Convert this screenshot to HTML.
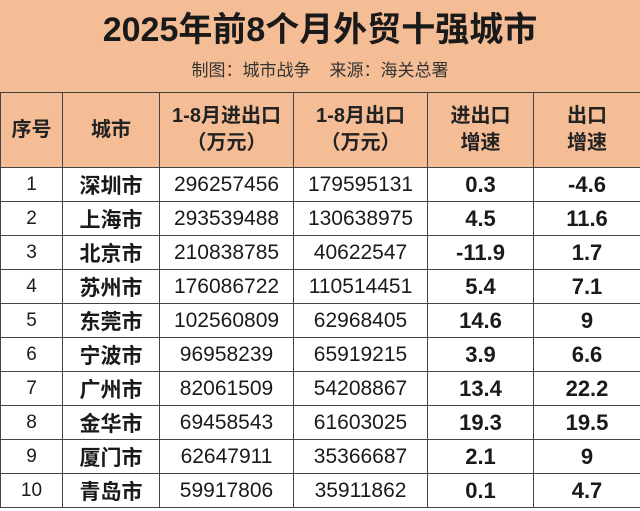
<!DOCTYPE html><html><head><meta charset="utf-8"><style>
body{margin:0;width:640px;height:511px;overflow:hidden;background:#fff;font-family:"Liberation Sans","Noto Sans CJK SC",sans-serif;color:#1a1a1a}
.top{position:absolute;left:0;top:0;width:640px;height:93px;background:#f5bd96}
.t1{position:absolute;top:9px;width:640px;text-align:center;font-size:34px;font-weight:bold;line-height:42px}
.t2{position:absolute;top:59px;width:640px;text-align:center;font-size:17px;line-height:24px;color:#333}
table{position:absolute;left:0;top:92px;border-collapse:collapse;width:640px;table-layout:fixed}
td{border:1.5px solid #444;text-align:center;padding:0;height:33px;font-size:21px}
tr.h td{background:#f5bd96;height:74px;font-weight:bold;font-size:20px;line-height:27px;color:#222}
td.n{font-size:19px}td.c{font-weight:bold;font-size:21px}td.b{font-weight:bold;font-size:22px}
</style></head><body>
<div class="top"><div class="t1">2025年前8个月外贸十强城市</div><div class="t2">制图：城市战争&nbsp;&nbsp;&nbsp;&nbsp;来源：海关总署</div></div>
<table>
<colgroup><col style="width:62px"><col style="width:97px"><col style="width:134px"><col style="width:134px"><col style="width:106px"><col style="width:107px"></colgroup>
<tr class="h"><td>序号</td><td>城市</td><td>1-8月进出口<br>（万元）</td><td>1-8月出口<br>（万元）</td><td>进出口<br>增速</td><td>出口<br>增速</td></tr>
<tr><td class="n">1</td><td class="c">深圳市</td><td>296257456</td><td>179595131</td><td class="b">0.3</td><td class="b">-4.6</td></tr>
<tr><td class="n">2</td><td class="c">上海市</td><td>293539488</td><td>130638975</td><td class="b">4.5</td><td class="b">11.6</td></tr>
<tr><td class="n">3</td><td class="c">北京市</td><td>210838785</td><td>40622547</td><td class="b">-11.9</td><td class="b">1.7</td></tr>
<tr><td class="n">4</td><td class="c">苏州市</td><td>176086722</td><td>110514451</td><td class="b">5.4</td><td class="b">7.1</td></tr>
<tr><td class="n">5</td><td class="c">东莞市</td><td>102560809</td><td>62968405</td><td class="b">14.6</td><td class="b">9</td></tr>
<tr><td class="n">6</td><td class="c">宁波市</td><td>96958239</td><td>65919215</td><td class="b">3.9</td><td class="b">6.6</td></tr>
<tr><td class="n">7</td><td class="c">广州市</td><td>82061509</td><td>54208867</td><td class="b">13.4</td><td class="b">22.2</td></tr>
<tr><td class="n">8</td><td class="c">金华市</td><td>69458543</td><td>61603025</td><td class="b">19.3</td><td class="b">19.5</td></tr>
<tr><td class="n">9</td><td class="c">厦门市</td><td>62647911</td><td>35366687</td><td class="b">2.1</td><td class="b">9</td></tr>
<tr><td class="n">10</td><td class="c">青岛市</td><td>59917806</td><td>35911862</td><td class="b">0.1</td><td class="b">4.7</td></tr>
</table></body></html>
